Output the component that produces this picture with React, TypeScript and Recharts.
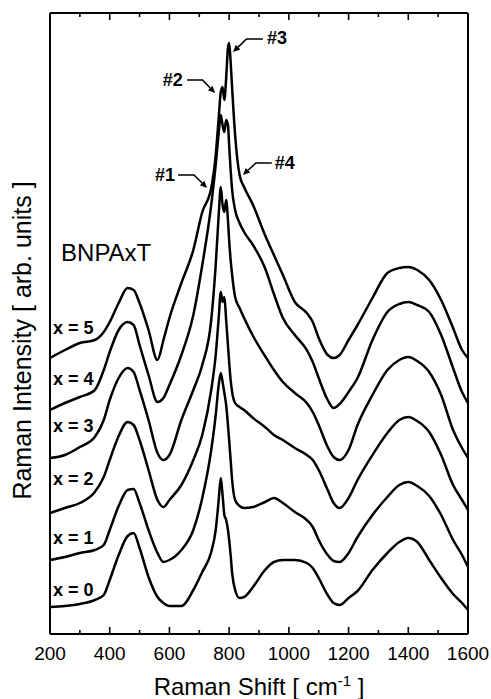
import React from "react";
import { LineChart, Line, XAxis, YAxis, ReferenceLine, ReferenceDot, Label } from "recharts";

const FONT = "Arial, 'Liberation Sans', Helvetica, sans-serif";

// Raman shift grid [cm-1]
const shift = [
  200, 250, 300, 350, 380, 400, 430, 460, 480, 500, 530, 560, 580, 600, 640, 680, 710, 740, 755, 765,
  772, 778, 784, 790, 796, 800, 805, 810, 820, 835, 850, 880, 920, 950, 980, 1020, 1060, 1080, 1100,
  1130, 1150, 1170, 1200, 1230, 1280, 1330, 1370, 1400, 1430, 1470, 1510, 1550, 1580, 1600,
];

// intensities (arb. units, already stacked)
const int0 = [
  27, 28, 30, 34, 39, 54, 79, 98, 101, 86, 57, 37, 31, 28, 28, 44, 62, 82, 104, 134,
  156, 139, 119, 114, 104, 94, 79, 61, 44, 36, 37, 47, 64, 72, 74, 74, 71, 66, 56,
  39, 31, 29, 36, 43, 64, 81, 92, 96, 92, 74, 56, 40, 31, 24,
];
const int1 = [
  74, 77, 81, 84, 89, 104, 128, 144, 145, 131, 104, 81, 72, 74, 84, 104, 136, 184, 219, 249,
  261, 252, 241, 229, 209, 194, 174, 154, 134, 128, 126, 127, 132, 136, 131, 122, 114, 107, 94,
  79, 73, 72, 81, 97, 119, 137, 149, 152, 148, 138, 119, 94, 79, 67,
];
const int2 = [
  121, 126, 131, 142, 157, 174, 198, 212, 209, 194, 164, 134, 127, 134, 149, 174, 199, 244, 279, 316,
  342, 332, 337, 314, 289, 272, 254, 242, 231, 227, 224, 216, 207, 199, 194, 186, 179, 174, 164,
  144, 131, 126, 136, 154, 179, 201, 214, 217, 213, 202, 179, 149, 134, 124,
];
const int3 = [
  176, 179, 187, 197, 214, 234, 256, 266, 262, 244, 214, 181, 174, 179, 214, 244, 269, 314, 369, 419,
  447, 429, 422, 434, 414, 394, 374, 359, 337, 326, 316, 298, 278, 264, 252, 241, 231, 222, 209,
  187, 177, 174, 184, 209, 239, 264, 274, 277, 273, 262, 239, 204, 186, 176,
];
const int4 = [
  224, 231, 237, 244, 264, 282, 304, 312, 309, 289, 259, 232, 236, 249, 279, 319, 369, 429, 469, 501,
  519, 509, 502, 514, 509, 489, 464, 444, 424, 411, 402, 389, 366, 340, 316, 299, 284, 272, 256,
  234, 226, 230, 242, 256, 294, 322, 330, 332, 329, 322, 299, 266, 242, 231,
];
const int5 = [
  276, 284, 291, 294, 302, 312, 331, 346, 344, 331, 304, 274, 294, 316, 351, 384, 422, 446, 479, 516,
  542, 547, 534, 556, 586, 591, 572, 546, 499, 459, 447, 429, 399, 379, 359, 332, 321, 312, 296,
  279, 276, 279, 294, 309, 336, 361, 366, 367, 364, 354, 334, 306, 284, 276,
];

const series = [int0, int1, int2, int3, int4, int5];
const sampleLabels = ["x = 0", "x = 1", "x = 2", "x = 3", "x = 4", "x = 5"];
const sampleLabelY = [44, 96, 155, 208, 255, 306];
const xTicks = [200, 300, 400, 500, 600, 700, 800, 900, 1000, 1100, 1200, 1300, 1400, 1500, 1600];

const tags = [
  { text: "#1", tx: 619, ty: 459, anchor: "end", sx: 629, sy: 459, ex: 726, ey: 446 },
  { text: "#2", tx: 645, ty: 554, anchor: "end", sx: 659, sy: 554, ex: 753, ey: 541 },
  { text: "#3", tx: 927, ty: 596, anchor: "start", sx: 913, sy: 595, ex: 813, ey: 582 },
  { text: "#4", tx: 953, ty: 471, anchor: "start", sx: 943, sy: 471, ex: 846, ey: 459 },
];

const data = shift.map((s, i) => {
  const row: Record<string, number> = { shift: s };
  series.forEach((arr, k) => (row[`x${k}`] = arr[i]));
  return row;
});

function BottomTick(props: any) {
  const { x, y, payload } = props;
  const v = payload.value;
  const major = v % 200 === 0;
  return (
    <g>
      <line x1={x} y1={y} x2={x} y2={y - (major ? 7 : 4)} stroke="#000" strokeWidth={1.6} />
      {major && (
        <text x={x} y={y + 26} textAnchor="middle" fontSize={19} fontFamily={FONT} fill="#000">
          {v}
        </text>
      )}
    </g>
  );
}

function TopTick(props: any) {
  const { x, y, payload } = props;
  const major = payload.value % 200 === 0;
  return <line x1={x} y1={y} x2={x} y2={y + (major ? 7 : 4)} stroke="#000" strokeWidth={1.6} />;
}

function Arrow(props: any) {
  const { x1, y1, x2, y2 } = props;
  const xm = x1 + (x2 - x1) * 0.55;
  const ang = Math.atan2(y2 - y1, x2 - xm);
  const L = 7;
  const W = 3.2;
  const bx = x2 - L * Math.cos(ang);
  const by = y2 - L * Math.sin(ang);
  const px = -Math.sin(ang) * W;
  const py = Math.cos(ang) * W;
  return (
    <g>
      <polyline points={`${x1},${y1} ${xm},${y1} ${bx},${by}`} fill="none" stroke="#000" strokeWidth={1.6} />
      <polygon points={`${x2},${y2} ${bx + px},${by + py} ${bx - px},${by - py}`} fill="#000" />
    </g>
  );
}

export default function App() {
  return (
    <div style={{ width: 491, height: 699, background: "#fff" }}>
      <style>{`body{margin:0}`}</style>
      <LineChart width={491} height={699} data={data} margin={{ top: 8, right: 18, bottom: 0, left: 0 }}>
        <XAxis
          dataKey="shift"
          type="number"
          domain={[200, 1600]}
          ticks={xTicks}
          interval={0}
          tickSize={0}
          tickMargin={0}
          tickLine={false}
          tick={<BottomTick />}
          height={65}
          axisLine={{ stroke: "#000", strokeWidth: 2 }}
        >
          <Label
            content={(p: any) => {
              const vb = p.viewBox || { x: 50, y: 634, width: 418 };
              return (
                <text x={vb.x + vb.width / 2} y={vb.y + 61} textAnchor="middle" fontSize={24} fontFamily={FONT} fill="#000">
                  Raman Shift [ cm
                  <tspan dy={-9} fontSize={15}>-1</tspan>
                  <tspan dy={9}> ]</tspan>
                </text>
              );
            }}
          />
        </XAxis>
        <XAxis
          xAxisId="top"
          orientation="top"
          dataKey="shift"
          type="number"
          domain={[200, 1600]}
          ticks={xTicks}
          interval={0}
          tickSize={0}
          tickMargin={0}
          tickLine={false}
          tick={<TopTick />}
          height={5}
          axisLine={{ stroke: "#000", strokeWidth: 2 }}
        />
        <YAxis
          type="number"
          domain={[0, 621]}
          width={50}
          tick={false}
          tickLine={false}
          axisLine={{ stroke: "#000", strokeWidth: 2 }}
        >
          <Label
            content={(p: any) => {
              const vb = p.viewBox || { x: 0, y: 13, width: 50, height: 621 };
              const cx = vb.x + 31;
              const cy = vb.y + vb.height / 2 + 17;
              return (
                <text x={cx} y={cy} transform={`rotate(-90, ${cx}, ${cy})`} textAnchor="middle" fontSize={25} fontFamily={FONT} fill="#000">
                  Raman Intensity [ arb. units ]
                </text>
              );
            }}
          />
        </YAxis>
        <YAxis
          yAxisId="r"
          orientation="right"
          type="number"
          domain={[0, 1]}
          width={5}
          tick={false}
          tickLine={false}
          axisLine={{ stroke: "#000", strokeWidth: 2 }}
        />
        {series.map((_, k) => (
          <Line
            key={k}
            type="monotone"
            dataKey={`x${k}`}
            stroke="#000"
            strokeWidth={2.5}
            strokeLinejoin="round"
            dot={false}
            isAnimationActive={false}
          />
        ))}
        {sampleLabels.map((t, k) => (
          <ReferenceDot
            key={t}
            x={210}
            y={sampleLabelY[k]}
            r={0}
            shape={(p: any) => (
              <text x={p.cx} y={p.cy} dy="0.36em" fontSize={18} fontWeight="bold" fontFamily={FONT} fill="#000">
                {t}
              </text>
            )}
          />
        ))}
        <ReferenceDot
          x={237}
          y={382}
          r={0}
          shape={(p: any) => (
            <text x={p.cx} y={p.cy} dy="0.36em" fontSize={24} fontFamily={FONT} fill="#000">
              BNPAxT
            </text>
          )}
        />
        {tags.map((t) => (
          <ReferenceLine
            key={`a${t.text}`}
            segment={[
              { x: t.sx, y: t.sy },
              { x: t.ex, y: t.ey },
            ]}
            shape={<Arrow />}
          />
        ))}
        {tags.map((t) => (
          <ReferenceDot
            key={`t${t.text}`}
            x={t.tx}
            y={t.ty}
            r={0}
            shape={(p: any) => (
              <text x={p.cx} y={p.cy} dy="0.36em" textAnchor={t.anchor} fontSize={18} fontWeight="bold" fontFamily={FONT} fill="#000">
                {t.text}
              </text>
            )}
          />
        ))}
      </LineChart>
    </div>
  );
}
